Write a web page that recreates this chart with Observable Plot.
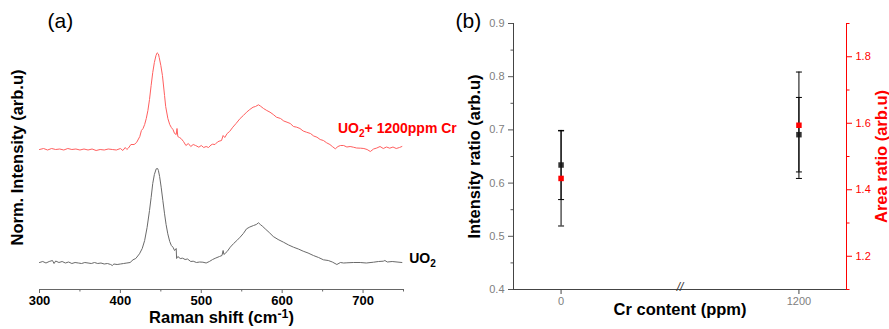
<!DOCTYPE html>
<html><head><meta charset="utf-8">
<script src="https://cdn.jsdelivr.net/npm/d3@7"></script>
<script src="https://cdn.jsdelivr.net/npm/@observablehq/plot@0.6"></script>
<style>
body{margin:0;background:#fff;}
#wrap{position:relative;width:889px;height:329px;overflow:hidden;background:#fff;font-family:"Liberation Sans",Arial,sans-serif;}
#wrap svg{position:absolute;left:0;top:0;}
</style></head><body><div id="wrap"></div>
<script>
// ---------- Panel (a): Raman spectra ----------
const shiftCr = [300,305,310,315,320,325,330,335,340,345,350,355,360,365,370,375,380,385,390,395,400,403,406,408,410,413,417,420,424,426,428,430,432,434,436,438,440,442,444,445.5,447,448,450,452,454.6,456,458.7,461,463,465,467,469,470,471,473,475,478,481,484,487,490,493,497,500,503,506,509,512,514,517,520,522,525,527,529,532,535,539,543,548,552,556,560,564,567,570.7,573,577,581,585,589,593,598,602,606,610,614,618,622,626,630,635,639,643,647,651,655,659,662,665.7,669,672,676,680,684,688,692,697,701,705,709,713,717,721,725,729,733,737,741,745,748];
const intensityCr = [1.13,1.14,1.125,1.14,1.13,1.135,1.125,1.14,1.13,1.135,1.125,1.135,1.125,1.135,1.12,1.13,1.125,1.135,1.13,1.125,1.14,1.12,1.15,1.13,1.145,1.18,1.18,1.20,1.26,1.32,1.34,1.38,1.44,1.52,1.63,1.77,1.90,2.00,2.07,2.097,2.085,2.05,1.97,1.87,1.67,1.56,1.44,1.38,1.35,1.33,1.29,1.28,1.34,1.26,1.25,1.24,1.21,1.17,1.19,1.16,1.18,1.17,1.153,1.17,1.15,1.16,1.15,1.175,1.183,1.18,1.205,1.213,1.22,1.27,1.25,1.29,1.31,1.353,1.39,1.44,1.47,1.503,1.53,1.553,1.56,1.577,1.565,1.54,1.52,1.503,1.48,1.453,1.44,1.415,1.403,1.39,1.36,1.353,1.34,1.315,1.303,1.29,1.265,1.253,1.23,1.22,1.197,1.18,1.16,1.137,1.16,1.17,1.17,1.155,1.16,1.153,1.145,1.143,1.14,1.13,1.11,1.135,1.145,1.16,1.14,1.155,1.143,1.155,1.14,1.15,1.16];

const shiftUO2 = [300,304,308,312,316,318,320,324,328,332,336,340,344,348,352,356,360,364,368,372,376,380,384,388,390,392,396,400,404,408,412,415.6,419,423.6,427,430,433,436,438,440,442,444.3,446,447,448.5,450.4,452.5,454.6,456.5,458.6,461,463,465,467,469,469.5,471,474,477,480,483,487,490,494,498,502,506,510,514,518,522.5,525.6,527,528,532,535.8,540,544,548,552,556,560,564.6,568,570.7,573,576,579,584,589,595,601.6,608,614,620,626,632,638.6,645,651,657,662,667.6,672,676,680,688,696.5,704,713,719,725,727,730,736,742,748];
const intensityUO2 = [0.0,0.01,-0.005,0.01,0.02,-0.01,0.015,0.0,0.01,-0.005,0.005,-0.01,0.0,-0.005,-0.01,0.0,-0.005,-0.01,0.0,-0.01,-0.005,-0.015,-0.01,-0.02,-0.03,-0.015,-0.02,-0.015,-0.01,-0.005,0.0,0.027,0.04,0.087,0.14,0.22,0.35,0.52,0.65,0.79,0.88,0.937,0.94,0.92,0.86,0.753,0.62,0.487,0.38,0.287,0.21,0.17,0.153,0.12,0.14,0.04,0.06,0.04,0.043,0.03,0.035,0.01,0.013,0.0,0.005,0.003,-0.005,0.01,0.03,0.045,0.06,0.07,0.12,0.08,0.11,0.153,0.19,0.22,0.253,0.29,0.337,0.355,0.37,0.38,0.397,0.38,0.36,0.337,0.3,0.26,0.23,0.203,0.175,0.153,0.135,0.113,0.095,0.07,0.05,0.027,0.02,0.005,-0.02,0.0,-0.005,-0.003,0.0,0.0,-0.005,0.003,0.01,0.013,0.02,0.005,0.01,0.005,0.0];

const ramanMajorTicks = [300,400,500,600,700];
const ramanMinorTicks = [350,450,550,650,750];
const spectrumLabels = ["UO₂+ 1200ppm Cr", "UO₂"];
const spectrumLabelX = [669, 757];
const spectrumLabelY = [1.34, 0.04];

// ---------- Panel (b): ratios ----------
const crContent = [0, 1200];
const crTickLabels = ["0", "1200"];
const intensityRatio = [0.634, 0.691];
const intensityRatioErr = [0.065, 0.07];
const areaRatio = [1.434, 1.594];
const areaRatioErr = [0.143, 0.16];
const leftMajorTicks = [0.4,0.5,0.6,0.7,0.8,0.9];
const leftMinorTicks = [0.45,0.55,0.65,0.75,0.85];
const rightMajorTicks = [1.2,1.4,1.6,1.8];
const rightMinorTicks = [1.1,1.3,1.5,1.7,1.9];
const axisBreakAt = [600];

const FONT = '"Liberation Sans", Arial, sans-serif';
const RED = "#ff0000";
const W = 889, H = 329;

const capSymbol = {draw(ctx, size){ const w = Math.sqrt(size/Math.PI); ctx.moveTo(-w,0); ctx.lineTo(w,0); }};

const spectra = [
  ...shiftCr.map((x,i)=>({x, y: intensityCr[i], s:"Cr"})),
  ...shiftUO2.map((x,i)=>({x, y: intensityUO2[i], s:"UO2"}))
];
const labelsData = spectrumLabels.map((t,i)=>({t, x: spectrumLabelX[i], y: spectrumLabelY[i]}));

const common = {width: W, height: H, style: {background: "transparent", overflow: "visible", fontFamily: FONT}};

const plotA = Plot.plot({
  ...common,
  marginLeft: 39, marginRight: 486, marginTop: 25, marginBottom: 40,
  x: {domain: [300, 750], axis: null},
  y: {domain: [-0.27, 2.37], axis: null},
  marks: [
    Plot.frame({anchor: "bottom", stroke: "#666"}),
    Plot.axisX({ticks: ramanMajorTicks, tickSize: 4, stroke: "#666", tickFormat: () => "", label: null}),
    Plot.axisX({ticks: ramanMinorTicks, tickSize: 2.5, stroke: "#666", tickFormat: () => "", label: null}),
    Plot.text(ramanMajorTicks, {x: d => d, frameAnchor: "bottom", dy: 15, text: d => String(d), fontWeight: "bold", fontSize: 13, fill: "#000"}),
    Plot.line(spectra.filter(d=>d.s==="Cr"), {x: "x", y: "y", stroke: "#ff5f5f", strokeWidth: 1}),
    Plot.line(spectra.filter(d=>d.s==="UO2"), {x: "x", y: "y", stroke: "#6a6a6a", strokeWidth: 1}),
    Plot.text(labelsData, {x: "x", y: "y", text: "t", textAnchor: "start", fontWeight: "bold", fontSize: 14, fill: (d,i)=> i===0 ? RED : "#000"}),
    Plot.text(["Raman shift (cm⁻¹)"], {frameAnchor: "bottom", dy: 33, textAnchor: "middle", fontWeight: "bold", fontSize: 16.5, fill: "#000"}),
    Plot.text(["Norm. Intensity (arb.u)"], {frameAnchor: "left", dx: -22, rotate: -90, textAnchor: "middle", fontWeight: "bold", fontSize: 16.5, fill: "#000"}),
    Plot.text(["(a)"], {frameAnchor: "top-left", dx: 8, dy: -12, fontSize: 21, fill: "#000"})
  ]
});

const bData = crContent.map((x,i)=>({x, v: intensityRatio[i], e: intensityRatioErr[i], a: areaRatio[i], ae: areaRatioErr[i], lab: crTickLabels[i]}));
const xDomainB = [-240, 1440];

const plotB = Plot.plot({
  ...common,
  marginLeft: 513, marginRight: 43, marginTop: 23, marginBottom: 40,
  x: {domain: xDomainB, axis: null},
  y: {domain: [0.4, 0.9], axis: null},
  marks: [
    Plot.frame({anchor: "left", stroke: "#444"}),
    Plot.frame({anchor: "bottom", stroke: "#444"}),
    Plot.axisY({ticks: leftMajorTicks, tickSize: 5, stroke: "#555", tickPadding: 4, fontSize: 11, fill: "#808080", label: null, tickFormat: d3.format(".1f")}),
    Plot.axisY({ticks: leftMinorTicks, tickSize: 2.5, stroke: "#555", tickFormat: () => "", label: null}),
    Plot.axisX({ticks: crContent, tickSize: 5, stroke: "#444", tickPadding: 3, fontSize: 11, fill: "#808080", label: null, tickFormat: (d)=> crTickLabels[crContent.indexOf(d)]}),
    Plot.text(axisBreakAt, {x: d=>d, frameAnchor: "bottom", text: () => "//", fontSize: 12, fontStyle: "italic", fill: "#333", dy: 1}),
    Plot.ruleX(bData, {x: "x", y1: d=>d.v-d.e, y2: d=>d.v+d.e, stroke: "#000", strokeWidth: 1}),
    Plot.dot(bData, {x: "x", y: d=>d.v-d.e, symbol: capSymbol, r: 3, stroke: "#000", strokeWidth: 1}),
    Plot.dot(bData, {x: "x", y: d=>d.v+d.e, symbol: capSymbol, r: 3, stroke: "#000", strokeWidth: 1}),
    Plot.dot(bData, {x: "x", y: "v", symbol: "square", r: 3.1, fill: "#333", stroke: null}),
    Plot.text(["Intensity ratio (arb.u)"], {frameAnchor: "left", dx: -38.5, rotate: -90, textAnchor: "middle", fontWeight: "bold", fontSize: 16.5, fill: "#000"}),
    Plot.text(["Cr content (ppm)"], {frameAnchor: "bottom", dy: 25, textAnchor: "middle", fontWeight: "bold", fontSize: 16.5, fill: "#000"}),
    Plot.text(["(b)"], {frameAnchor: "top-left", dx: -58, dy: -10, fontSize: 21, fill: "#000"})
  ]
});

const plotC = Plot.plot({
  ...common,
  marginLeft: 513, marginRight: 43, marginTop: 23, marginBottom: 40,
  x: {domain: xDomainB, axis: null},
  y: {domain: [1.1, 1.9], axis: null},
  marks: [
    Plot.frame({anchor: "right", stroke: RED}),
    Plot.axisY({anchor: "right", ticks: rightMajorTicks, tickSize: 5, stroke: RED, tickPadding: 4, fontSize: 11, fill: RED, label: null, tickFormat: d3.format(".1f")}),
    Plot.axisY({anchor: "right", ticks: rightMinorTicks, tickSize: 2.5, stroke: RED, tickFormat: () => "", label: null}),
    Plot.ruleX(bData, {x: "x", y1: d=>d.a-d.ae, y2: d=>d.a+d.ae, stroke: "#000", strokeWidth: 1}),
    Plot.dot(bData, {x: "x", y: d=>d.a-d.ae, symbol: capSymbol, r: 3, stroke: "#000", strokeWidth: 1}),
    Plot.dot(bData, {x: "x", y: d=>d.a+d.ae, symbol: capSymbol, r: 3, stroke: "#000", strokeWidth: 1}),
    Plot.dot(bData, {x: "x", y: "a", symbol: "square", r: 3.1, fill: RED, stroke: null}),
    Plot.text(["Area ratio (arb.u)"], {frameAnchor: "right", dx: 35.5, rotate: -90, textAnchor: "middle", fontWeight: "bold", fontSize: 16.5, fill: RED})
  ]
});

const wrap = document.getElementById("wrap");
wrap.append(plotA, plotB, plotC);

// Sub/superscripts as real text
d3.select(wrap).selectAll("text").each(function(){
  const s = this.textContent;
  if (!/[₂⁻¹]/.test(s) || this.querySelector("tspan")) return;
  const parts = s.split(/(₂|⁻¹)/).filter(p => p !== "");
  const sel = d3.select(this);
  sel.text(null);
  let shift = 0;
  for (const p of parts) {
    if (p === "₂") { sel.append("tspan").attr("dy", (4 - shift) + "px").attr("font-size", "0.72em").text("2"); shift = 4; }
    else if (p === "⁻¹") { sel.append("tspan").attr("dy", (-5 - shift) + "px").attr("font-size", "0.75em").text("-1"); shift = -5; }
    else { sel.append("tspan").attr("dy", (-shift) + "px").text(p); shift = 0; }
  }
});
</script></body></html>
